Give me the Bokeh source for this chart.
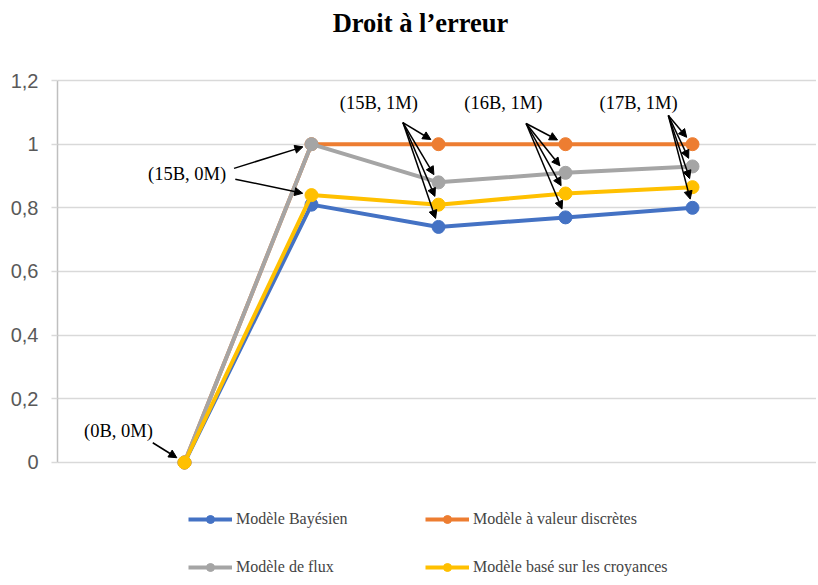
import math
from bokeh.plotting import figure
from bokeh.models import (Range1d, FixedTicker, CustomJSTickFormatter, Legend, LegendItem,
                          Arrow, NormalHead, Label)
from bokeh.embed import file_html
from bokeh.resources import INLINE

# ---- data ----
x_pos = [1, 2, 3, 4, 5]
bayes = [0, 0.81, 0.74, 0.77, 0.80]
discretes = [0, 1, 1, 1, 1]
flux = [0, 1, 0.88, 0.91, 0.93]
croyances = [0, 0.84, 0.81, 0.845, 0.865]
series_names = ["Modèle Bayésien", "Modèle à valeur discrètes", "Modèle de flux",
                "Modèle basé sur les croyances"]
series_colors = ["#4472C4", "#ED7D31", "#A5A5A5", "#FFC000"]
y_ticks = [0, 0.2, 0.4, 0.6, 0.8, 1.0, 1.2]
annot_texts = ["(0B, 0M)", "(15B, 0M)", "(15B, 1M)", "(16B, 1M)", "(17B, 1M)"]
title_text = "Droit à l’erreur"

W, H = 816, 583
ML = 57
PX_X = 127.0      # pixels per category step
PX_Y = 318.33     # pixels per unit of y
TOP_PAD = 80      # pixels between figure top and the 1.2 grid line
FRAME_W, FRAME_H = W - ML, H
X0, X1 = 0, FRAME_W / PX_X
Y1 = 1.2 + TOP_PAD / PX_Y
Y0 = Y1 - FRAME_H / PX_Y

p = figure(width=W, height=H, output_backend="svg", toolbar_location=None,
           x_range=Range1d(X0, X1), y_range=Range1d(Y0, Y1),
           min_border_left=ML, min_border_right=0, min_border_top=0, min_border_bottom=0)
p.outline_line_color = None
p.background_fill_color = "white"
p.border_fill_color = "white"

p.xaxis.visible = False
p.xgrid.visible = False
ax = p.yaxis[0]
ax.ticker = FixedTicker(ticks=y_ticks)
ax.formatter = CustomJSTickFormatter(code="""
var s = (Math.round(tick*10)/10).toString();
return s.replace('.', ',');
""")
ax.bounds = (0, 1.2)
ax.axis_line_color = "#BFBFBF"
ax.axis_line_width = 1.5
ax.major_tick_line_color = "#D9D9D9"
ax.major_tick_line_width = 1.5
ax.major_tick_out = 6
ax.major_tick_in = 0
ax.minor_tick_line_color = None
ax.major_label_text_font = "Liberation Sans"
ax.major_label_text_font_size = "20px"
ax.major_label_text_color = "#595959"
ax.major_label_standoff = 13
p.ygrid.ticker = FixedTicker(ticks=y_ticks)
p.ygrid.grid_line_color = "#D9D9D9"
p.ygrid.grid_line_width = 1.5

all_series = [bayes, discretes, flux, croyances]
items = []
for name, col, ys in zip(series_names, series_colors, all_series):
    l = p.line(x_pos, ys, line_color=col, line_width=4)
    s = p.scatter(x_pos, ys, size=13, fill_color=col, line_color=col)
    items.append(LegendItem(label=name, renderers=[l, s]))

# ---- annotations ----
sx, sy = PX_X, PX_Y

# chart title, near the top of the figure
p.add_layout(Label(x=(420 - ML) / sx, y=Y1 - 22 / sy, text=title_text,
                   text_font="Liberation Serif", text_font_size="26.5px", text_font_style="bold",
                   text_align="center", text_baseline="middle", text_color="black"))

def arrow(x_start, y_start, tx, ty, r=9):
    dx = (x_start - tx) * sx
    dy = (y_start - ty) * sy
    n = math.hypot(dx, dy)
    ex = tx + dx / n * r / sx
    ey = ty + dy / n * r / sy
    p.add_layout(Arrow(end=NormalHead(size=8, fill_color="black", line_color="black"),
                       x_start=x_start, y_start=y_start, x_end=ex, y_end=ey,
                       line_color="black", line_width=1.5))

def text(x, y, t):
    p.add_layout(Label(x=x, y=y, text=t, text_font="Liberation Serif", text_font_size="18.5px",
                       text_align="center", text_baseline="middle", text_color="black"))

# (0B, 0M)
text(0.48, 0.10, annot_texts[0])
arrow(0.75, 0.062, x_pos[0], croyances[0])
# (15B, 0M)
text(1.02, 0.905, annot_texts[1])
arrow(1.39, 0.924, x_pos[1], flux[1])
arrow(1.40, 0.890, x_pos[1], croyances[1])
# (15B, 1M), (16B, 1M), (17B, 1M)
for i, (lx, ax_, ay_) in zip([2, 3, 4], [(2.53, 2.72, 1.068), (3.51, 3.69, 1.065), (4.575, 4.81, 1.09)]):
    text(lx, 1.128, annot_texts[i])
    for ys in [discretes, flux, croyances, bayes]:
        arrow(ax_, ay_, x_pos[i], ys[i])

# legend fills column by column: put items so rows read as in the reference
legend_items = [items[0], items[2], items[1], items[3]]
legend = Legend(items=legend_items, ncols=2, location=(131, 6),
                border_line_color=None, background_fill_alpha=0,
                label_text_font="Liberation Serif", label_text_font_size="16px",
                glyph_width=44, glyph_height=20, label_height=20, label_width=161,
                label_standoff=4, spacing=28, padding=0, margin=0)
p.add_layout(legend, "center")

open("out.html", "w").write(file_html(p, INLINE))
